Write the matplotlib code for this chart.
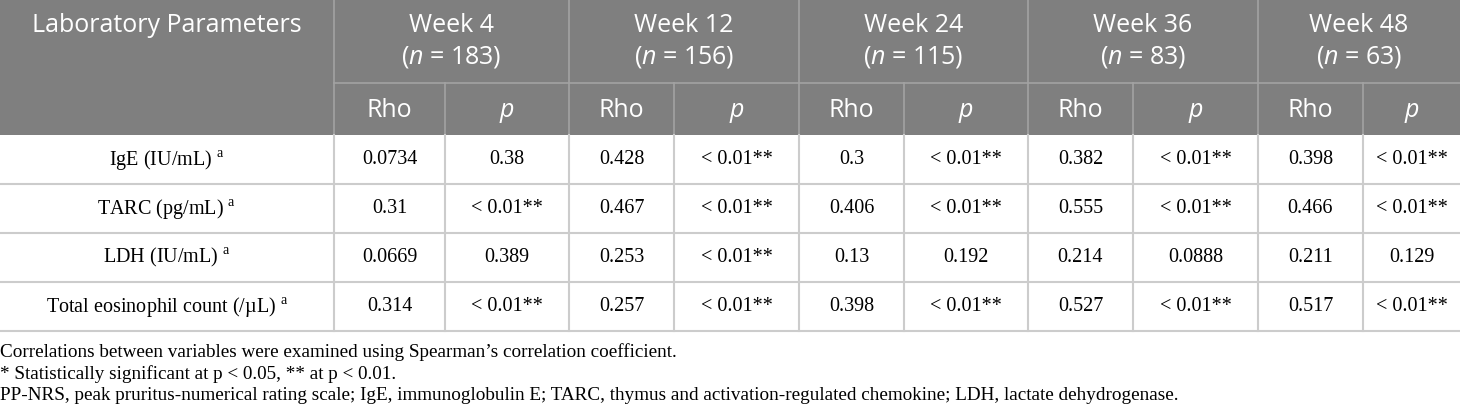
import matplotlib
matplotlib.use("Agg")
import matplotlib.pyplot as plt
from matplotlib.patches import Rectangle

plt.rcParams['mathtext.fontset'] = 'custom'
plt.rcParams['mathtext.rm'] = 'Liberation Serif'
plt.rcParams['mathtext.it'] = 'Open Sans:italic'

# table content
weeks = ["Week 4", "Week 12", "Week 24", "Week 36", "Week 48"]
n_per_week = [183, 156, 115, 83, 63]
parameters = ["IgE (IU/mL)", "TARC (pg/mL)", "LDH (IU/mL)", "Total eosinophil count (/\u00b5L)"]
rho = [
    ["0.0734", "0.428", "0.3", "0.382", "0.398"],
    ["0.31", "0.467", "0.406", "0.555", "0.466"],
    ["0.0669", "0.253", "0.13", "0.214", "0.211"],
    ["0.314", "0.257", "0.398", "0.527", "0.517"],
]
pvals = [
    ["0.38", "< 0.01**", "< 0.01**", "< 0.01**", "< 0.01**"],
    ["< 0.01**", "< 0.01**", "< 0.01**", "< 0.01**", "< 0.01**"],
    ["0.389", "< 0.01**", "0.192", "0.0888", "0.129"],
    ["< 0.01**", "< 0.01**", "< 0.01**", "< 0.01**", "< 0.01**"],
]
footnotes = [
    "Correlations between variables were examined using Spearman\u2019s correlation coefficient.",
    "* Statistically significant at p < 0.05, ** at p < 0.01.",
    "PP-NRS, peak pruritus-numerical rating scale; IgE, immunoglobulin E; TARC, thymus and activation-regulated chemokine; LDH, lactate dehydrogenase.",
]

# layout (pixels)
W, H = 1460, 411
col_x = [0, 334, 445, 569, 674, 799, 904, 1028, 1133, 1258, 1363, 1460]
head1, head2 = 83, 135
row_h = 49
header_bg = "#7f7f7f"
header_line = "#a3a3a3"
body_line = "#cccccc"
sans = "Open Sans"
serif = "Liberation Serif"
hsize = 18
bsize = 14.5
fsize = 13.8

fig = plt.figure(figsize=(W / 100, H / 100), dpi=100)
ax = fig.add_axes([0, 0, 1, 1])
ax.set_xlim(0, W)
ax.set_ylim(H, 0)
ax.axis("off")

ax.add_patch(Rectangle((0, 0), W, head2, color=header_bg, lw=0))

# header lines
for i in range(1, len(col_x) - 1):
    top = 0 if i % 2 == 1 else head1
    ax.plot([col_x[i], col_x[i]], [top, head2], color=header_line, lw=1.2)
ax.plot([col_x[1], W], [head1, head1], color=header_line, lw=1.2)

ax.text(col_x[1] / 2, 26, "Laboratory Parameters", ha="center", va="center",
        color="white", fontsize=hsize, family=sans)
for k, wk in enumerate(weeks):
    cx = (col_x[1 + 2 * k] + col_x[3 + 2 * k]) / 2
    ax.text(cx, 26, wk, ha="center", va="center", color="white", fontsize=hsize, family=sans)
    ax.text(cx, 57, "($n$ = %d)" % n_per_week[k], ha="center", va="center",
            color="white", fontsize=hsize, family=sans)
    ax.text((col_x[1 + 2 * k] + col_x[2 + 2 * k]) / 2, 110, "Rho", ha="center",
            va="center", color="white", fontsize=hsize, family=sans)
    ax.text((col_x[2 + 2 * k] + col_x[3 + 2 * k]) / 2, 110, "p", ha="center",
            va="center", color="white", fontsize=hsize, family=sans, style="italic")

# body
for r, name in enumerate(parameters):
    y0 = head2 + r * row_h
    yc = y0 + row_h / 2
    ax.plot([0, W], [y0 + row_h, y0 + row_h], color=body_line, lw=1.5)
    ax.text(col_x[1] / 2, yc, name + r" $^{\mathrm{a}}$", ha="center", va="center",
            fontsize=bsize, family=serif)
    for k in range(len(weeks)):
        ax.text((col_x[1 + 2 * k] + col_x[2 + 2 * k]) / 2, yc, rho[r][k],
                ha="center", va="center", fontsize=bsize, family=serif)
        ax.text((col_x[2 + 2 * k] + col_x[3 + 2 * k]) / 2, yc, pvals[r][k],
                ha="center", va="center", fontsize=bsize, family=serif)
bottom = head2 + len(parameters) * row_h
for x in col_x[1:-1]:
    ax.plot([x, x], [head2, bottom], color=body_line, lw=1.5)

for i, line in enumerate(footnotes):
    ax.text(0, bottom + 21.5 + i * 21.5, line, ha="left", va="center",
            fontsize=fsize, family=serif)

fig.savefig("out.png", dpi=100)
